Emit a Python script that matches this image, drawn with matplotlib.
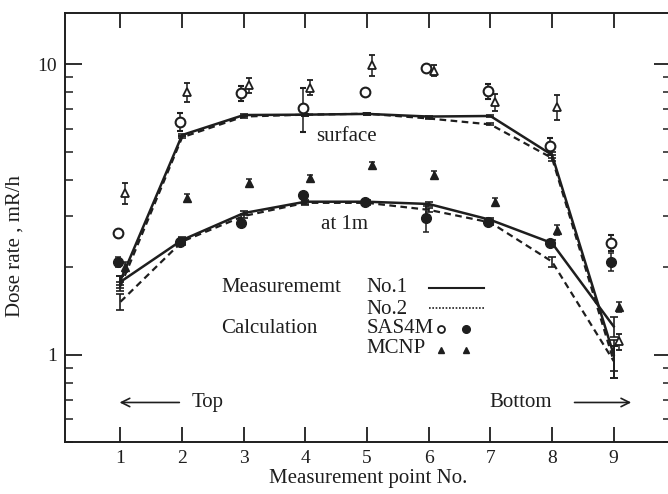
import numpy as np
import matplotlib
matplotlib.use('Agg')
import matplotlib.pyplot as plt
from matplotlib.ticker import LogLocator, NullFormatter, FixedLocator

plt.rcParams['font.family'] = ['Liberation Serif', 'DejaVu Serif']
plt.rcParams['font.size'] = 15

ink = '#1e1e1e'

# measurement points
pts = np.arange(1, 10)

# measured dose rate (mR/h), detectors No.1 / No.2
surf_no1 = [1.80, 5.70, 6.68, 6.70, 6.74, 6.60, 6.63, 4.87, 1.00]
surf_no2 = [1.72, 5.60, 6.60, 6.70, 6.75, 6.50, 6.20, 4.75, 0.95]
m1_no1 = [1.78, 2.48, 3.07, 3.36, 3.36, 3.30, 2.91, 2.42, 1.25]
m1_no2 = [1.52, 2.45, 3.00, 3.33, 3.33, 3.15, 2.85, 2.09, 0.95]
surf_no1_err = [0.06, 0.05, 0.05, 0.05, 0.05, 0.05, 0.05, 0.1, 0.12]
surf_no2_err = [0.06, 0.05, 0.05, 0.05, 0.05, 0.05, 0.05, 0.1, 0.12]
m1_no1_err = [0.08, 0.07, 0.05, 0.05, 0.05, 0.05, 0.05, 0.06, 0.1]
m1_no2_err = [0.1, 0.07, 0.05, 0.05, 0.05, 0.05, 0.05, 0.08, 0.12]

# calculations
sas_surf = [2.63, 6.32, 7.94, 7.06, 8.00, 9.70, 8.07, 5.22, 2.43]
sas_1m = [2.09, 2.45, 2.84, 3.55, 3.36, 2.95, 2.86, 2.42, 2.09]
mcnp_surf = [3.60, 8.00, 8.47, 8.30, 9.93, 9.50, 7.40, 7.10, 1.11]
mcnp_1m = [2.00, 3.46, 3.90, 4.06, 4.50, 4.15, 3.36, 2.69, 1.46]
sas_surf_err = [0.0, 0.45, 0.5, 1.2, 0.0, 0.0, 0.5, 0.35, 0.15]
sas_1m_err = [0.08, 0.0, 0.0, 0.0, 0.0, 0.3, 0.0, 0.0, 0.15]
mcnp_surf_err = [0.3, 0.6, 0.5, 0.5, 0.8, 0.4, 0.5, 0.7, 0.07]
mcnp_1m_err = [0.08, 0.1, 0.12, 0.1, 0.12, 0.12, 0.1, 0.1, 0.06]

fig = plt.figure(figsize=(6.68, 4.94), dpi=100)
ax = fig.add_axes([65/668, 52/494, 606/668, 429/494])

eb = dict(capsize=3, elinewidth=1.2, capthick=1.2, color=ink)
ax.errorbar(pts, surf_no1, yerr=surf_no1_err, lw=1.8, ls='-', **eb)
ax.errorbar(pts, m1_no1, yerr=m1_no1_err, lw=1.8, ls='-', **eb)
ax.errorbar(pts, surf_no2, yerr=surf_no2_err, lw=1.6, ls=(0, (3, 2)), **eb)
ax.errorbar(pts, m1_no2, yerr=m1_no2_err, lw=1.6, ls=(0, (3, 2)), **eb)

mk = dict(ls='none', capsize=2.5, elinewidth=1.1, capthick=1.1, ecolor=ink)
ax.errorbar(pts - 0.04, sas_surf, yerr=sas_surf_err, marker='o', ms=7,
            mfc='white', mec=ink, mew=1.5, **mk)
ax.errorbar(pts - 0.04, sas_1m, yerr=sas_1m_err, marker='o', ms=7,
            mfc=ink, mec=ink, **mk)
ax.errorbar(pts + 0.08, mcnp_surf, yerr=mcnp_surf_err, marker='^', ms=6,
            mfc='white', mec=ink, mew=1.3, **mk)
ax.errorbar(pts + 0.08, mcnp_1m, yerr=mcnp_1m_err, marker='^', ms=6,
            mfc=ink, mec=ink, **mk)

ax.set_yscale('log')
ax.set_ylim(0.5, 15)
ax.set_xlim(0.1, 9.93)
ax.set_xticks(pts)
ax.yaxis.set_major_locator(FixedLocator([1, 10]))
ax.set_yticklabels(['1', '10'])
ax.yaxis.set_minor_locator(LogLocator(base=10, subs=np.arange(2, 10)))
ax.yaxis.set_minor_formatter(NullFormatter())

ax.tick_params(axis='x', which='major', direction='in', length=11, width=1.3,
               top=True, colors=ink, labelsize=14, pad=6)
ax.tick_params(axis='y', which='major', direction='in', length=12, width=1.3,
               right=True, colors=ink, labelsize=14, pad=6)
ax.tick_params(axis='y', which='minor', direction='in', length=6, width=1.1,
               right=True, colors=ink)
for s in ax.spines.values():
    s.set_linewidth(1.4)
    s.set_color(ink)

ax.set_xlabel('Measurement point No.', color=ink, labelpad=1)
ax.set_ylabel('Dose rate , mR/h', color=ink)
ax.yaxis.set_label_coords(-0.066, 0.457)

# annotations
ax.text(4.67, 5.62, 'surface', ha='center', va='center', color=ink)
ax.text(4.63, 2.8, 'at 1m', ha='center', va='center', color=ink)

ax.text(2.63, 1.70, 'Measurememt', ha='left', va='center', color=ink)
ax.text(4.99, 1.70, 'No.1', ha='left', va='center', color=ink)
ax.plot([6.0, 6.9], [1.69, 1.69], color=ink, lw=1.5)
ax.text(4.99, 1.43, 'No.2', ha='left', va='center', color=ink)
ax.plot([6.0, 6.9], [1.45, 1.45], color=ink, lw=1.2, ls=(0, (1, 1)))
ax.text(2.63, 1.23, 'Calculation', ha='left', va='center', color=ink)
ax.text(4.99, 1.23, 'SAS4M', ha='left', va='center', color=ink)
ax.plot([6.2], [1.22], marker='o', ms=5, mfc='white', mec=ink, mew=1.3, ls='none')
ax.plot([6.6], [1.22], marker='o', ms=5.5, mfc=ink, mec=ink, ls='none')
ax.text(4.99, 1.05, 'MCNP', ha='left', va='center', color=ink)
ax.plot([6.2], [1.04], marker='^', ms=5, mfc=ink, mec=ink, ls='none')
ax.plot([6.6], [1.04], marker='^', ms=5, mfc=ink, mec=ink, ls='none')

ax.annotate('', xy=(0.94, 0.684), xytext=(2.0, 0.684),
            arrowprops=dict(arrowstyle='->', color=ink, lw=1.2))
ax.text(2.16, 0.684, 'Top', ha='left', va='center', color=ink)
ax.text(6.98, 0.684, 'Bottom', ha='left', va='center', color=ink)
ax.annotate('', xy=(9.33, 0.684), xytext=(8.32, 0.684),
            arrowprops=dict(arrowstyle='->', color=ink, lw=1.2))

fig.savefig('out.png', dpi=100)
